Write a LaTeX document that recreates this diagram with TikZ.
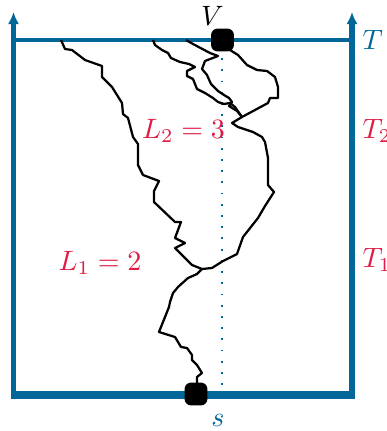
\documentclass[tikz,border=0pt]{standalone}
\usepackage{amsmath,amssymb}
\usepackage{xcolor}
\usetikzlibrary{arrows.meta}
\definecolor{axisblue}{RGB}{0,103,152}
\definecolor{loopred}{RGB}{222,28,68}

\begin{document}
\begin{tikzpicture}[x=0.357pt,y=-0.357pt,
		axis/.style={axisblue,line width=2.1pt},
		walk/.style={black,thick,line join=round},
		site/.style={fill=black,rounded corners=2.4pt,minimum size=8.2pt,inner sep=0pt},
		redlab/.style={loopred,anchor=base,inner sep=0pt},
		bluelab/.style={axisblue,anchor=base west,inner sep=0pt}]
			\useasboundingbox (0,0) rectangle (387,431);
			\draw[axisblue,line width=0.95pt,dash pattern=on 0.65pt off 3.35pt] (222,47) -- (222,386);
			\draw[axisblue,line width=1.2pt] (13.5,40) -- (352,40);
			\draw[axisblue,line width=2.7pt] (11,395) -- (354.5,395);
			\draw[axis,-{Latex[length=4.3pt,width=4pt]}] (13.5,397) -- (13.5,12);
			\draw[axis,-{Latex[length=4.3pt,width=4pt]}] (352,397) -- (352,12);
			\coordinate (j) at (202,269);
			\coordinate (k) at (242,117);
			\draw[walk] (197,385) -- (197,377) -- (202,373) -- (197,365) -- (192,360) -- (192,355) -- (187,348) -- (181,347) -- (175,337) -- (159,332) -- (165,317) -- (169,307) -- (170,302) -- (173,293) -- (178,287) -- (188,278) -- (197,274) -- (j)
				-- (192,265) -- (175,248) -- (185,243) -- (175,238) -- (181,222) -- (175,222) -- (154,202) -- (154,191) -- (159,181) -- (143,175) -- (138,165) -- (138,144) -- (133,137) -- (128,118) -- (123,114) -- (122,103) -- (112,87) -- (102,77) -- (102,66) -- (85,60) -- (72,50) -- (65,49) -- (61,40);
			\draw[walk] (j) -- (212,268) -- (223,261) -- (237,254) -- (243,237) -- (258,218) -- (265,206) -- (274,192) -- (268,185) -- (268,158) -- (265,142) -- (262,137) -- (253,132) -- (238,127) -- (232,123) -- (k)
				-- (268,103) -- (270,98) -- (278,98) -- (278,87) -- (275,77) -- (267,71) -- (257,70) -- (247,65) -- (238,55) -- (230,50) -- (222,47);
			\draw[walk] (153,40) -- (155,45) -- (162,50) -- (168,53) -- (171,58) -- (180,62) -- (189,64) -- (195,67) -- (187,71) -- (187,76) -- (193,79) -- (197,89) -- (205,93) -- (213,98) -- (218,102) -- (224,104) -- (230,103) -- (235,107) -- (k);
			\draw[walk] (186,40) -- (193,44) -- (210,53) -- (218,56) -- (205,61) -- (202,69) -- (207,75) -- (211,84) -- (218,91) -- (224,95) -- (229,98) -- (232,102) -- (229,106) -- (237,111) -- (k);
			\node[site] (top) at (222.5,40) {};
			\node[site] (bot) at (196,394) {};
			\node[anchor=base,inner sep=0pt] (V) at (212.5,25) {\(V\)};
			\node[bluelab] (T) at (362,50) {\(T\)};
			\node[redlab,anchor=base west] (T2) at (362,138) {\(T_2\)};
			\node[redlab,anchor=base west] (T1) at (362,267) {\(T_1\)};
			\node[redlab] (L2) at (183.5,138) {\(L_2=3\)};
			\node[redlab] (L1) at (100,270) {\(L_1=2\)};
			\node[axisblue,anchor=base,inner sep=0pt] (s) at (218,426) {\(s\)};
		\end{tikzpicture}
\end{document}
